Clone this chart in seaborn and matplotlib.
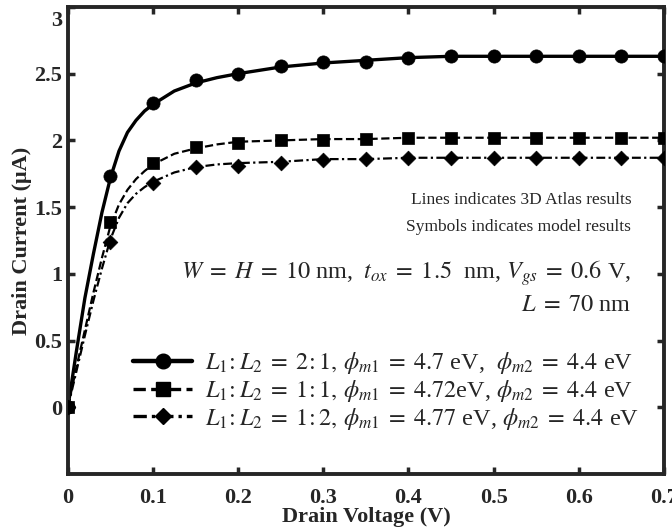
import numpy as np
import pandas as pd
import matplotlib
matplotlib.use("Agg")
import matplotlib.pyplot as plt
import matplotlib.transforms as mtransforms
from matplotlib.lines import Line2D
import seaborn as sns

# Atlas (lines)
x_line = [0, 0.01, 0.02, 0.03, 0.04, 0.05, 0.06, 0.07, 0.08, 0.09, 0.1, 0.125,
          0.15, 0.175, 0.2, 0.25, 0.3, 0.35, 0.4, 0.45, 0.5, 0.6, 0.7]
atlas_21 = [0, 0.42, 0.82, 1.15, 1.46, 1.72, 1.92, 2.06, 2.15, 2.22, 2.27, 2.37,
            2.43, 2.47, 2.50, 2.55, 2.58, 2.60, 2.62, 2.63, 2.63, 2.63, 2.63]
atlas_11 = [0, 0.30, 0.58, 0.86, 1.12, 1.36, 1.52, 1.63, 1.71, 1.77, 1.82, 1.90,
            1.94, 1.97, 1.99, 2.00, 2.01, 2.01, 2.02, 2.02, 2.02, 2.02, 2.02]
atlas_12 = [0, 0.27, 0.54, 0.80, 1.04, 1.26, 1.42, 1.53, 1.60, 1.65, 1.69, 1.76,
            1.80, 1.82, 1.83, 1.84, 1.86, 1.86, 1.87, 1.87, 1.87, 1.87, 1.87]

# model (symbols)
x_model = [0, 0.05, 0.1, 0.15, 0.2, 0.25, 0.3, 0.35, 0.4, 0.45, 0.5, 0.55, 0.6, 0.65, 0.7]
model_21 = [0, 1.73, 2.28, 2.45, 2.50, 2.56, 2.59, 2.59, 2.62, 2.63, 2.63, 2.63, 2.63, 2.63, 2.63]
model_11 = [0, 1.39, 1.83, 1.95, 1.98, 2.00, 2.00, 2.01, 2.02, 2.02, 2.02, 2.02, 2.02, 2.02, 2.02]
model_12 = [0, 1.24, 1.68, 1.80, 1.81, 1.83, 1.85, 1.86, 1.87, 1.87, 1.87, 1.87, 1.87, 1.87, 1.87]

labels = [r'$L_1\!:L_2\;=\;2\!:1,\,\phi_{m1}\;=\;4.7$ eV,  $\phi_{m2}\;=\;4.4$ eV',
          r'$L_1\!:L_2\;=\;1\!:1,\,\phi_{m1}\;=\;4.72$eV, $\phi_{m2}\;=\;4.4$ eV',
          r'$L_1\!:L_2\;=\;1\!:2,\,\phi_{m1}\;=\;4.77$ eV, $\phi_{m2}\;=\;4.4$ eV']

x_ticks = [0, 0.1, 0.2, 0.3, 0.4, 0.5, 0.6, 0.7]
x_ticklabels = ['0', '0.1', '0.2', '0.3', '0.4', '0.5', '0.6', '0.7']
y_ticks = [0, 0.5, 1, 1.5, 2, 2.5, 3]
y_ticklabels = ['0', '0.5', '1', '1.5', '2', '2.5', '3']

sns.set_theme(style='ticks')
plt.rcParams['font.family'] = ['Liberation Serif', 'DejaVu Serif']
plt.rcParams['mathtext.fontset'] = 'stix'

fig = plt.figure(figsize=(6.72, 5.31), dpi=100)
ax = fig.add_axes([0.101, 0.107, 0.887, 0.880])

styles = [('-', 'o', 9.5, 2.4), ('--', 's', 8.5, 1.6), ((0, (4, 1.5, 1, 1.5)), 'D', 7.5, 1.6)]
atlas = [atlas_21, atlas_11, atlas_12]
model = [model_21, model_11, model_12]

handles = []
for (ls, mk, ms, lw), ya, ym, lab in zip(styles, atlas, model, labels):
    sns.lineplot(x=x_line, y=ya, ax=ax, color='black', lw=lw, linestyle=ls,
                 estimator=None, sort=False)
    sns.scatterplot(x=x_model, y=ym, ax=ax, color='black', marker=mk,
                    s=ms ** 2, edgecolor='black', linewidth=0.5, zorder=3)
    handles.append(Line2D([], [], color='black', lw=lw + 0.8, linestyle=ls,
                          marker=mk, markersize=ms + 1, label=lab))

ax.set_xlim(0, 0.7)
ax.set_ylim(-0.5, 3)
ax.set_xticks(x_ticks)
ax.set_xticklabels(x_ticklabels)
ax.set_yticks(y_ticks)
ax.set_yticklabels(y_ticklabels)
ax.tick_params(direction='in', length=5, width=2.5, color='#262626',
               top=True, right=True, labelsize=16)
ax.tick_params(axis='x', pad=10)
ax.tick_params(axis='y', pad=4)
for lbl in ax.get_xticklabels() + ax.get_yticklabels():
    lbl.set_fontweight('bold')
    lbl.set_color('#262626')
# top label "3" sits a little below the spine in the original
top_lbl = ax.get_yticklabels()[-1]
top_lbl.set_transform(top_lbl.get_transform() +
                      mtransforms.ScaledTranslation(0, -8 / 72, fig.dpi_scale_trans))
for sp in ax.spines.values():
    sp.set_linewidth(2.8)
    sp.set_color('#262626')

ax.set_xlabel('Drain Voltage (V)', fontsize=16, fontweight='bold', labelpad=-1)
ax.set_ylabel('Drain Current (μA)', fontsize=16, fontweight='bold', labelpad=2)

ax.text(0.945, 0.587, 'Lines indicates 3D Atlas results', transform=ax.transAxes,
        ha='right', va='center', fontsize=12.5)
ax.text(0.945, 0.529, 'Symbols indicates model results', transform=ax.transAxes,
        ha='right', va='center', fontsize=12.5)
ax.text(0.945, 0.431,
        r'$W\;=\;H\;=\;10$ nm, $\;t_{ox}\;=\;1.5$  nm, $V_{gs}\;=\;0.6$ V,',
        transform=ax.transAxes, ha='right', va='center', fontsize=17.5)
ax.text(0.945, 0.362, r'$L\;=\;70$ nm', transform=ax.transAxes,
        ha='right', va='center', fontsize=17.5)

ax.legend(handles=handles, loc='center left', bbox_to_anchor=(0.109, 0.178),
          frameon=False, fontsize=17.5, handlelength=2.45, handletextpad=0.5,
          borderpad=0, borderaxespad=0, labelspacing=0.08)

fig.savefig('out.png', dpi=100)
